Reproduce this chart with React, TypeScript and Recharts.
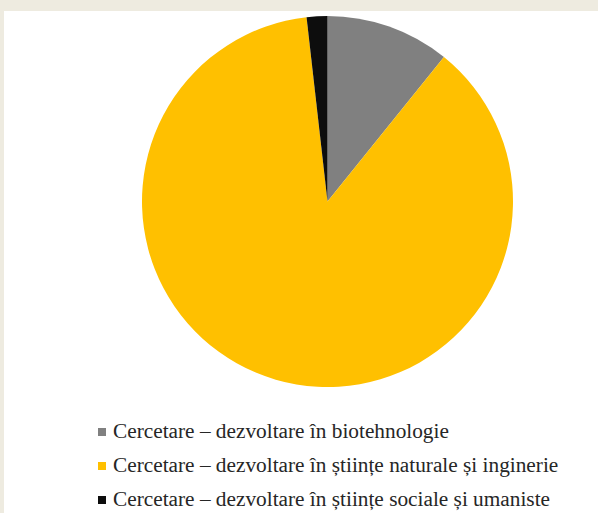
import { PieChart, Pie, Cell } from "recharts";

const categories = [
  "Cercetare – dezvoltare în biotehnologie",
  "Cercetare – dezvoltare în științe naturale și inginerie",
  "Cercetare – dezvoltare în științe sociale și umaniste",
];
const shares = [10.8, 87.4, 1.8];
const colors = ["#808080", "#ffc000", "#0d0d0d"];

const data = categories.map((name, i) => ({ name, value: shares[i] }));

function LegendList() {
  return (
    <div style={{ position: "absolute", left: 94, top: 403, fontFamily: "'Liberation Serif', 'Times New Roman', serif" }}>
      {categories.map((c, i) => (
        <div
          key={c}
          style={{ display: "flex", alignItems: "center", height: 34, fontSize: 21.3, color: "#262626", whiteSpace: "nowrap" }}
        >
          <span
            style={{ width: 8, height: 8, background: colors[i], marginRight: 7, display: "inline-block", marginTop: 1 }}
          />
          {c}
        </div>
      ))}
    </div>
  );
}

export default function App() {
  return (
    <div style={{ position: "absolute", left: 0, top: 0, width: 598, height: 513, background: "#eeebe0", overflow: "hidden" }}>
      <div style={{ position: "absolute", left: 4, top: 11, width: 594, height: 502, background: "#fff" }}>
        <PieChart width={594} height={400} margin={{ top: 0, right: 0, bottom: 0, left: 0 }}>
          <Pie
            data={data}
            dataKey="value"
            nameKey="name"
            cx={323.5}
            cy={190.5}
            outerRadius={185.5}
            startAngle={90}
            endAngle={-270}
            stroke="none"
            isAnimationActive={false}
          >
            {data.map((d, i) => (
              <Cell key={d.name} fill={colors[i]} />
            ))}
          </Pie>
        </PieChart>
        <LegendList />
      </div>
    </div>
  );
}
